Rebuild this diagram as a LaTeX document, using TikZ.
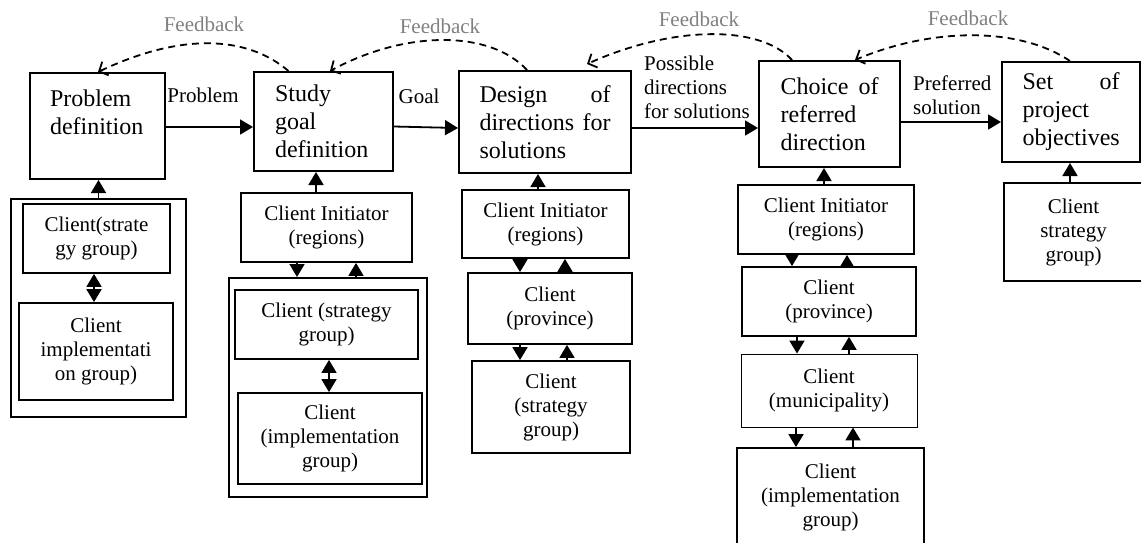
\documentclass[tikz,border=0pt]{standalone}
\usepackage{fontspec}
\setmainfont{Liberation Serif}
\usetikzlibrary{arrows.meta}
\begin{document}
\begin{tikzpicture}[x=1pt, y=-1pt,
  stage/.style={draw, line width=2pt, inner sep=0pt, align=left, font=\fontsize{24}{28}\selectfont},
  client/.style={draw, line width=1.8pt, inner sep=0pt, align=center, font=\fontsize{21}{24}\selectfont},
  frame/.style={draw, line width=2pt, inner sep=0pt},
  lbl/.style={inner sep=0pt, align=left, font=\fontsize{21}{24}\selectfont},
  fblbl/.style={inner sep=0pt, text=gray, font=\fontsize{21}{24}\selectfont},
  flow/.style={-{Triangle[length=13pt,width=15pt]}, line width=1.8pt},
  both/.style={{Triangle[length=13pt,width=15pt]}-{Triangle[length=13pt,width=15pt]}, line width=1.8pt},
  fb/.style={-{Straight Barb[length=7pt,width=15pt]}, line width=1.8pt, dash pattern=on 7pt off 5pt}]
\useasboundingbox (0,0) rectangle (1141,542);
% stages
\node[stage, minimum width=135pt, minimum height=106pt, text width=95pt] (prob) at (97.5,126) {Problem\\definition\\~};
\node[stage, minimum width=139pt, minimum height=99pt, text width=97pt] (study) at (323.5,121.5) {Study\\goal\\definition};
\node[stage, minimum width=172pt, minimum height=102pt, text width=131pt] (design) at (545,122) {Design\hfill of\\directions\hfill for\\solutions};
\node[stage, minimum width=141pt, minimum height=106pt, text width=98pt] (choice) at (829.5,114) {Choice\hfill of\\referred\\direction};
\node[stage, minimum width=138pt, minimum height=100pt, text width=97pt] (set) at (1071,112) {Set\hfill of\\project\\objectives};
\draw[flow] ([yshift=-1pt]prob.east) -- ([yshift=-1pt]prob.east -| study.west);
\draw[flow] ([yshift=-5pt]study.east) -- ([yshift=-6pt]design.west);
\draw[flow] ([yshift=-6pt]design.east) -- ([yshift=-6pt]design.east -| choice.west);
\draw[flow] ([yshift=-8pt]choice.east) -- ([yshift=-8pt]choice.east -| set.west);
\node[lbl] (lproblem) at (203,95) {Problem};
\node[lbl] (lgoal) at (419,96) {Goal};
\node[lbl, anchor=west] (lposs) at (644,87) {Possible\\directions\\for solutions};
\node[lbl, anchor=west] (lpref) at (913,95) {Preferred\\solution};
% feedback
\node[fblbl] (fb1) at (204,24) {Feedback};
\node[fblbl] (fb2) at (440,26) {Feedback};
\node[fblbl] (fb3) at (699,19) {Feedback};
\node[fblbl] (fb4) at (968,18) {Feedback};
\draw[fb] ([xshift=-35pt]study.north) .. controls (245,34) and (178,34) .. ([xshift=0.5pt]prob.north);
\draw[fb] ([xshift=-18pt]design.north) .. controls (490,30) and (406,30) .. ([xshift=6.5pt]study.north);
\draw[fb] ([xshift=-37.5pt]choice.north) .. controls (760,25) and (674,25) .. ([xshift=42pt,yshift=6pt]design.north);
\draw[fb] ([xshift=-1pt]set.north) .. controls (1020,27) and (933,27) .. ([xshift=25.5pt]choice.north);
% clients under problem definition
\node[frame, minimum width=175pt, minimum height=218pt] (frame1) at (98.5,308) {};
\node[client, minimum width=147pt, minimum height=69pt] (strat1) at (96.5,238.5) {Client(strate\\gy group)};
\node[client, minimum width=154pt, minimum height=97pt] (impl1) at (96,351.5) {Client\\implementati\\on group)};
\draw[flow] (frame1.north) -- (frame1.north |- prob.south);
\draw[both] ([xshift=-2.5pt]strat1.south) -- ([xshift=-2.5pt]strat1.south |- impl1.north);
% clients under study goal
\node[client, minimum width=171pt, minimum height=69pt] (init2) at (326.5,227.5) {Client Initiator\\(regions)};
\node[frame, minimum width=198pt, minimum height=219pt] (frame2) at (328,387.5) {};
\node[client, minimum width=183pt, minimum height=69pt] (strat2) at (326.5,324.5) {Client (strategy\\group)};
\node[client, minimum width=184pt, minimum height=91pt] (impl2) at (330,438.5) {Client\\(implementation\\group)};
\draw[flow] ([xshift=-10.5pt]init2.north) -- ([xshift=-10.5pt]init2.north |- study.south);
\draw[flow] ([xshift=-29.5pt]init2.south) -- ([xshift=-29.5pt]init2.south |- frame2.north);
\draw[flow] ([xshift=29.5pt]init2.south |- frame2.north) -- ([xshift=29.5pt]init2.south);
\draw[both] ([xshift=2.5pt]strat2.south) -- ([xshift=2.5pt]strat2.south |- impl2.north);
% clients under design of directions
\node[client, minimum width=167pt, minimum height=68pt] (init3) at (545.5,224) {Client Initiator\\(regions)};
\node[client, minimum width=164pt, minimum height=71pt] (prov3) at (550,308.5) {Client\\(province)};
\node[client, minimum width=158pt, minimum height=92pt] (strat3) at (551,407) {Client\\(strategy\\group)};
\draw[flow] ([xshift=-7.5pt]init3.north) -- ([xshift=-7.5pt]init3.north |- design.south);
\draw[flow] ([xshift=-25.5pt]init3.south) -- ([xshift=-25.5pt]init3.south |- prov3.north);
\draw[flow] ([xshift=19.5pt]init3.south |- prov3.north) -- ([xshift=19.5pt]init3.south);
\draw[flow] ([xshift=-30pt]prov3.south) -- ([xshift=-30pt]prov3.south |- strat3.north);
\draw[flow] ([xshift=17pt]prov3.south |- strat3.north) -- ([xshift=17pt]prov3.south);
% clients under choice of direction
\node[client, minimum width=176pt, minimum height=69pt] (init4) at (826,219.5) {Client Initiator\\(regions)};
\node[client, minimum width=174pt, minimum height=69pt] (prov4) at (829,301.5) {Client\\(province)};
\node[client, line width=0.9pt, minimum width=176pt, minimum height=73pt] (muni4) at (829,390.5) {Client\\(municipality)};
\node[client, minimum width=187pt, minimum height=98pt] (impl4) at (830.5,497) {Client\\(implementation\\group)};
\draw[flow] ([xshift=-2pt]init4.north) -- ([xshift=-2pt]init4.north |- choice.south);
\draw[flow] ([xshift=-34pt]init4.south) -- ([xshift=-34pt]init4.south |- prov4.north);
\draw[flow] ([xshift=21pt]init4.south |- prov4.north) -- ([xshift=21pt]init4.south);
\draw[flow] ([xshift=-32pt]prov4.south) -- ([xshift=-32pt]prov4.south |- muni4.north);
\draw[flow] ([xshift=20pt]prov4.south |- muni4.north) -- ([xshift=20pt]prov4.south);
\draw[flow] ([xshift=-33pt]muni4.south) -- ([xshift=-33pt]muni4.south |- impl4.north);
\draw[flow] ([xshift=24pt]muni4.south |- impl4.north) -- ([xshift=24pt]muni4.south);
% client under project objectives
\node[client, minimum width=139pt, minimum height=98pt] (strat5) at (1073.5,232) {Client\\strategy\\group)};
\draw[flow] ([xshift=-3.5pt]strat5.north) -- ([xshift=-3.5pt]strat5.north |- set.south);
\end{tikzpicture}
\end{document}
